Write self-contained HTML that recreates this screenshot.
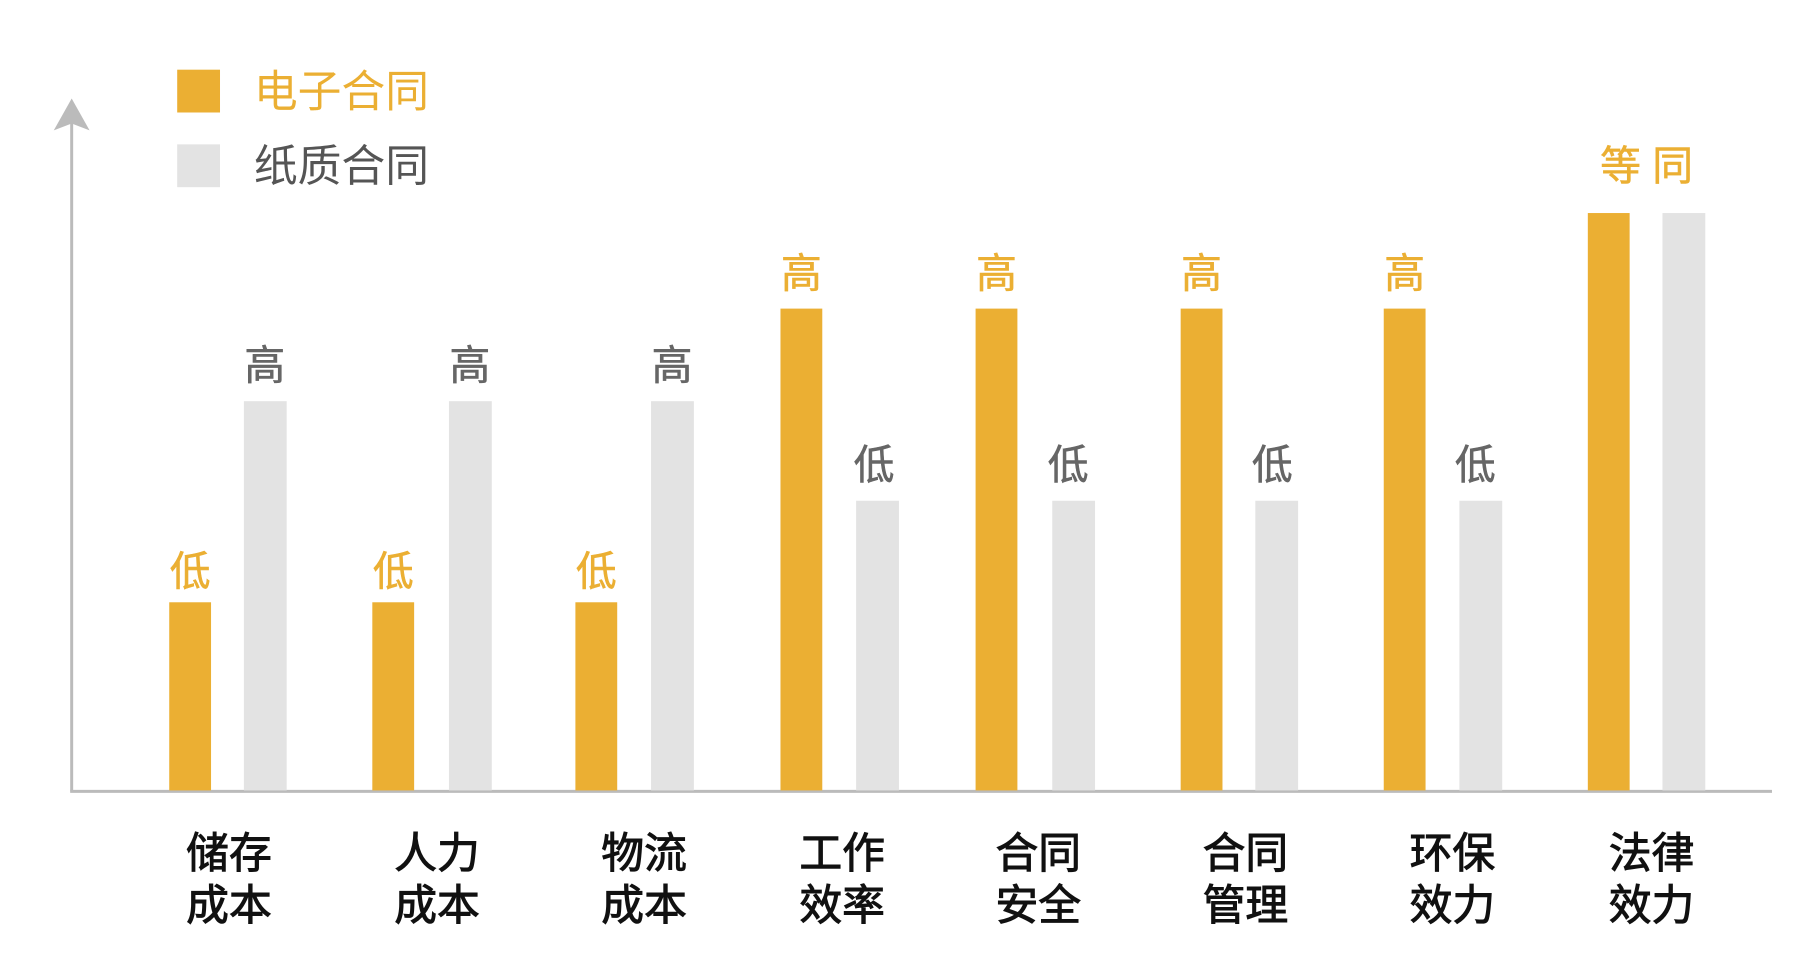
<!DOCTYPE html>
<html><head><meta charset="utf-8"><style>
body{margin:0;background:#fff}
svg text{font-family:"Liberation Sans","Noto Sans CJK SC",sans-serif}
</style></head><body>
<svg width="1812" height="965" viewBox="0 0 1812 965" xmlns="http://www.w3.org/2000/svg">
<g transform="scale(0.9955)">
<line x1="72" y1="110" x2="72" y2="795" stroke="#bbb" stroke-width="3"/>
<polygon points="72,99 54,131 72,124 90,131" fill="#bbb"/>
<line x1="70.5" y1="795" x2="1780" y2="795" stroke="#bbb" stroke-width="3"/>
<rect x="178" y="70" width="43" height="43" fill="#EBAF33"/>
<rect x="178" y="145" width="43" height="43" fill="#E3E3E3"/>
<text x="255" y="107" font-size="44" fill="#EBAF33">电子合同</text>
<text x="255" y="182" font-size="44" fill="#555">纸质合同</text>
<g fill="#EBAF33">
<rect x="170" y="605" width="42" height="189"/>
<rect x="374" y="605" width="42" height="189"/>
<rect x="578" y="605" width="42" height="189"/>
<rect x="784" y="310" width="42" height="484"/>
<rect x="980" y="310" width="42" height="484"/>
<rect x="1186" y="310" width="42" height="484"/>
<rect x="1390" y="310" width="42" height="484"/>
<rect x="1595" y="214" width="42" height="580"/>
</g>
<g fill="#E3E3E3">
<rect x="245" y="403" width="43" height="391"/>
<rect x="451" y="403" width="43" height="391"/>
<rect x="654" y="403" width="43" height="391"/>
<rect x="860" y="503" width="43" height="291"/>
<rect x="1057" y="503" width="43" height="291"/>
<rect x="1261" y="503" width="43" height="291"/>
<rect x="1466" y="503" width="43" height="291"/>
<rect x="1670" y="214" width="43" height="580"/>
</g>
<g font-size="41" text-anchor="middle" stroke-width="0.6">
<g fill="#EBAF33" stroke="#EBAF33">
<text x="191" y="588">低</text><text x="395" y="588">低</text><text x="599" y="588">低</text>
<text x="805" y="289">高</text><text x="1001" y="289">高</text><text x="1207" y="289">高</text><text x="1411" y="289">高</text>
<text x="1654" y="181">等 同</text>
</g>
<g fill="#666" stroke="#666">
<text x="266" y="381">高</text><text x="472" y="381">高</text><text x="675" y="381">高</text>
<text x="878" y="481">低</text><text x="1073" y="481">低</text><text x="1278" y="481">低</text><text x="1482" y="481">低</text>
</g>
</g>
<g font-size="43" text-anchor="middle" fill="#111" stroke="#111" stroke-width="1">
<text x="230" y="872">储存</text><text x="230" y="924">成本</text>
<text x="439" y="872">人力</text><text x="439" y="924">成本</text>
<text x="647" y="872">物流</text><text x="647" y="924">成本</text>
<text x="846" y="872">工作</text><text x="846" y="924">效率</text>
<text x="1043" y="872">合同</text><text x="1043" y="924">安全</text>
<text x="1251" y="872">合同</text><text x="1251" y="924">管理</text>
<text x="1459" y="872">环保</text><text x="1459" y="924">效力</text>
<text x="1659" y="872">法律</text><text x="1659" y="924">效力</text>
</g>
</g>
</svg>
</body></html>
